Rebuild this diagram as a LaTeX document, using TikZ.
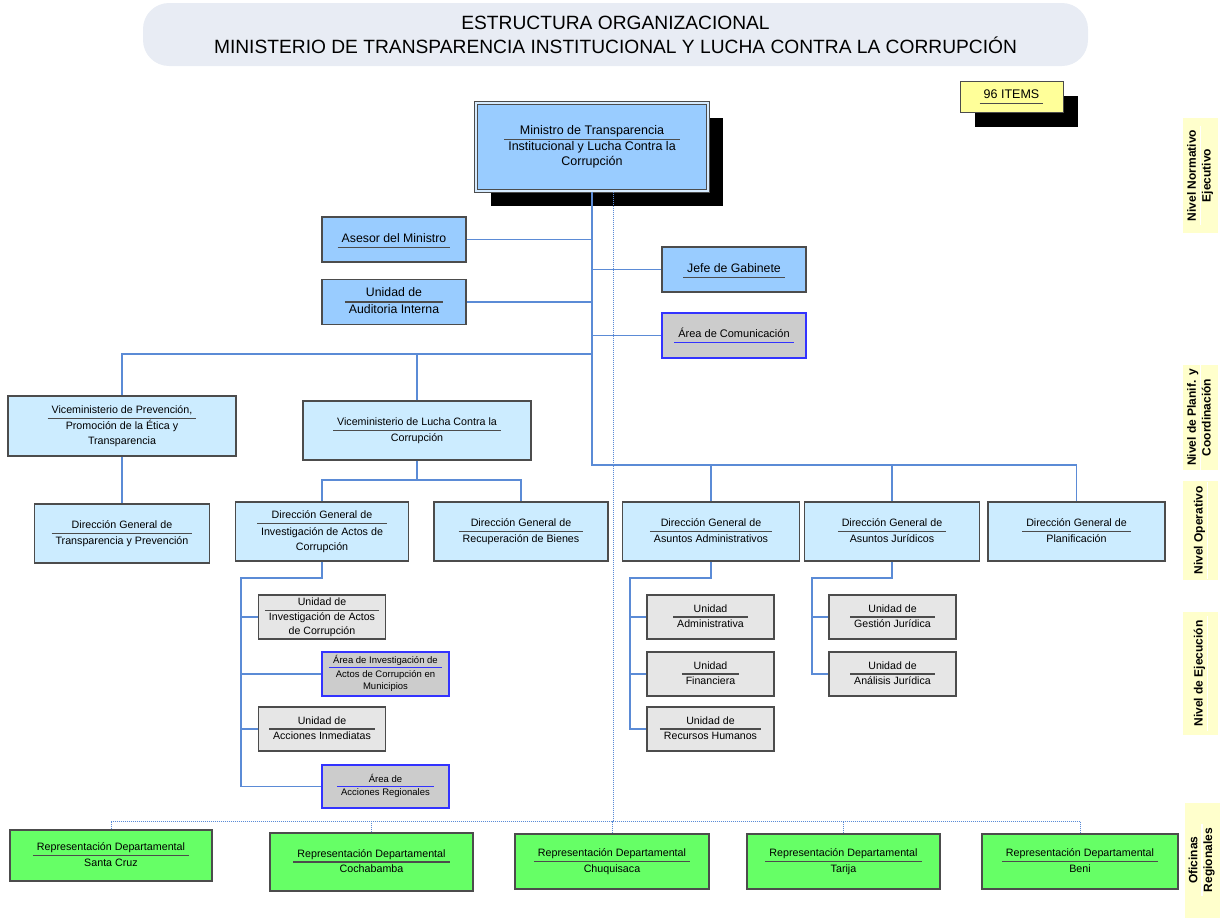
\documentclass[tikz,border=0pt]{standalone}
\usepackage{fontspec}
\setmainfont{Liberation Sans}
\usepackage{colortbl}
\usetikzlibrary{shadows}

\definecolor{staffblue}{HTML}{99CCFF}
\definecolor{dirblue}{HTML}{CCECFF}
\definecolor{unitgray}{HTML}{E6E6E6}
\definecolor{areagray}{HTML}{CCCCCC}
\definecolor{areaedge}{HTML}{3333FF}
\definecolor{repgreen}{HTML}{66FF66}
\definecolor{levelyellow}{HTML}{FFFFCC}
\definecolor{itemyellow}{HTML}{FFFF99}
\definecolor{titlefill}{HTML}{E8ECF4}
\definecolor{linkblue}{HTML}{5B8BD6}

\setlength{\arrayrulewidth}{1.1pt}
\setlength{\tabcolsep}{4pt}
\newcommand{\orgtxt}[3][black!70]{\arrayrulecolor{#1}\begin{tabular}{c}#2\\\hline #3\end{tabular}}
\newcommand{\orgone}[2][black!70]{\arrayrulecolor{#1}\begin{tabular}{c}#2\\\hline\end{tabular}}

\begin{document}
\begin{tikzpicture}[x=1pt,y=-1pt,
		box/.style={draw=black!70,line width=1.3pt,inner sep=0pt},
		staff/.style={box,fill=staffblue,minimum width=144pt,minimum height=45pt,font=\fontsize{12.3}{14.5}\selectfont\def\arraystretch{1.1}},
		area/.style={box,draw=areaedge,fill=areagray,minimum width=127pt,minimum height=44pt,font=\fontsize{9.5}{11.2}\selectfont\def\arraystretch{1.1}},
		dir/.style={box,fill=dirblue,minimum width=176pt,minimum height=59pt,font=\fontsize{10.7}{12.8}\selectfont\def\arraystretch{1.2}},
		unit/.style={box,fill=unitgray,minimum width=127pt,minimum height=44pt,font=\fontsize{10.6}{12.4}\selectfont\def\arraystretch{1.12}},
		rep/.style={box,fill=repgreen,minimum height=55pt,font=\fontsize{10.7}{12.8}\selectfont\def\arraystretch{1.15}},
		level/.style={fill=levelyellow,rotate=90,minimum height=35pt,inner sep=0pt,font=\bfseries\fontsize{12}{13.5}\selectfont\def\arraystretch{1.0}},
		link/.style={draw=linkblue,line width=1.4pt},
		reg/.style={draw=linkblue,line width=1pt,densely dotted}]

	\useasboundingbox (0,0) rectangle (1231,921);

	\node [fill=titlefill,rounded corners=26pt,minimum width=945pt,minimum height=63pt,align=center,
		font=\fontsize{19.2}{24}\selectfont] (title) at (615.5,34.5)
		{ESTRUCTURA ORGANIZACIONAL\\MINISTERIO DE TRANSPARENCIA INSTITUCIONAL Y LUCHA CONTRA LA CORRUPCIÓN};

	\node [box,line width=1pt,fill=itemyellow,minimum width=103pt,minimum height=31pt,font=\fontsize{12.5}{14}\selectfont,
		drop shadow={shadow xshift=15pt,shadow yshift=-15pt,fill=black,opacity=1}] (items) at (1011.5,96.5) {\orgone{96 ITEMS}};

	\node [box,line width=1pt,double=staffblue!40,double distance=2pt,fill=staffblue,minimum width=232pt,minimum height=88pt,
		font=\fontsize{12.5}{14.5}\selectfont\def\arraystretch{1.05},
		drop shadow={shadow xshift=15pt,shadow yshift=-15pt,fill=black,opacity=1}] (min) at (592,147)
		{\orgtxt{Ministro de Transparencia}{Institucional y Lucha Contra la\\Corrupción}};

	\node [staff] (ase) at (394,239.5) {\orgone{Asesor del Ministro}};
	\node [staff] (aud) at (394,302) {\orgtxt{Unidad de}{Auditoria Interna}};
	\node [staff] (jefe) at (734,269.5) {\orgone{Jefe de Gabinete}};
	\node [area,minimum width=144pt,minimum height=45pt,font=\fontsize{11}{13}\selectfont] (com) at (734,335.5) {\orgone[areaedge]{Área de Comunicación}};

	\node [dir,minimum width=228pt,minimum height=60pt] (vprev) at (122,426) {\orgtxt{Viceministerio de Prevención,}{Promoción de la Ética y\\Transparencia}};
	\node [dir,minimum width=228pt] (vlucha) at (417,430.5) {\orgtxt{Viceministerio de Lucha Contra la}{Corrupción}};

	\node [dir,minimum width=175pt] (dgtp) at (122,533.5) {\orgtxt{Dirección General de}{Transparencia y Prevención}};
	\node [dir,minimum width=173pt] (dginv) at (322,531.5) {\orgtxt{Dirección General de}{Investigación de Actos de\\Corrupción}};
	\node [dir,minimum width=174pt] (dgrec) at (521,531.5) {\orgtxt{Dirección General de}{Recuperación de Bienes}};
	\node [dir,minimum width=177pt] (dgadm) at (711,531.5) {\orgtxt{Dirección General de}{Asuntos Administrativos}};
	\node [dir,minimum width=175pt] (dgjur) at (892,531.5) {\orgtxt{Dirección General de}{Asuntos Jurídicos}};
	\node [dir,minimum width=177pt] (dgplan) at (1076.5,531.5) {\orgtxt{Dirección General de}{Planificación}};

	\node [unit] (uinv) at (322,617) {\orgtxt{Unidad de}{Investigación de Actos\\de Corrupción}};
	\node [area] (ainv) at (385.5,674) {\orgtxt[areaedge]{Área de Investigación de}{Actos de Corrupción en\\Municipios}};
	\node [unit] (uacc) at (322,729) {\orgtxt{Unidad de}{Acciones Inmediatas}};
	\node [area,minimum height=43pt] (aacc) at (385.5,786.5) {\orgtxt[areaedge]{Área de}{Acciones Regionales}};

	\node [unit] (uadm) at (710.5,617) {\orgtxt{Unidad}{Administrativa}};
	\node [unit] (ufin) at (710.5,674) {\orgtxt{Unidad}{Financiera}};
	\node [unit] (urrhh) at (710.5,729) {\orgtxt{Unidad de}{Recursos Humanos}};
	\node [unit] (ugest) at (892.5,617) {\orgtxt{Unidad de}{Gestión Jurídica}};
	\node [unit] (uanal) at (892.5,674) {\orgtxt{Unidad de}{Análisis Jurídica}};

	\node [rep,minimum width=202pt,minimum height=51pt] (rscz) at (111,855.5) {\orgtxt{Representación Departamental}{Santa Cruz}};
	\node [rep,minimum width=203pt,minimum height=58pt] (rcbba) at (371.5,862) {\orgtxt{Representación Departamental}{Cochabamba}};
	\node [rep,minimum width=194pt] (rchq) at (612,861.5) {\orgtxt{Representación Departamental}{Chuquisaca}};
	\node [rep,minimum width=193pt] (rtja) at (843.5,861.5) {\orgtxt{Representación Departamental}{Tarija}};
	\node [rep,minimum width=196pt] (rbeni) at (1080,861.5) {\orgtxt{Representación Departamental}{Beni}};

	\node [level,minimum width=115pt] (lnorm) at (1200.5,175.5) {\orgtxt[white]{Nivel Normativo}{Ejecutivo}};
	\node [level,minimum width=105pt] (lplan) at (1200.5,417.5) {\orgtxt[white]{Nivel de Planif. y}{Coordinación}};
	\node [level,minimum width=99pt] (loper) at (1200.5,530.5) {\orgone[white]{Nivel Operativo}};
	\node [level,minimum width=123pt] (lejec) at (1200.5,673.5) {\orgone[white]{Nivel de Ejecución}};
	\node [level,minimum width=115pt] (lreg) at (1202,860) {\orgtxt[white]{Oficinas}{Regionales}};

	\coordinate (vj) at (592,354);
	\coordinate (dj) at (592,465);
	\coordinate (lj) at (417,480);
	\coordinate (s1) at (241,578);
	\coordinate (s2) at (630,578);
	\coordinate (s3) at (812,578);
	\coordinate (rj) at (613,821);

	\draw [link] (min.south) -- (dj) -| (dgplan.north);
	\draw [link] (ase.east) -- (ase.east -| min.south);
	\draw [link] (aud.east) -- (aud.east -| min.south);
	\draw [link] (jefe.west) -- (jefe.west -| min.south);
	\draw [link] (com.west) -- (com.west -| min.south);
	\draw [link] (vprev.north) |- (vj);
	\draw [link] (vlucha.north) -- (vlucha.north |- vj);
	\draw [link] (dgadm.north) -- (dgadm.north |- dj);
	\draw [link] (dgjur.north) -- (dgjur.north |- dj);
	\draw [link] (vprev.south) -- (dgtp.north);
	\draw [link] (vlucha.south) -- (lj);
	\draw [link] (dginv.north) |- (lj) -| (dgrec.north);

	\draw [link] (dginv.south) |- (s1) |- (aacc.west);
	\draw [link] (uinv.west) -- (uinv.west -| s1);
	\draw [link] (ainv.west) -- (ainv.west -| s1);
	\draw [link] (uacc.west) -- (uacc.west -| s1);
	\draw [link] (dgadm.south) |- (s2) |- (urrhh.west);
	\draw [link] (uadm.west) -- (uadm.west -| s2);
	\draw [link] (ufin.west) -- (ufin.west -| s2);
	\draw [link] (dgjur.south) |- (s3) |- (uanal.west);
	\draw [link] (ugest.west) -- (ugest.west -| s3);

	\draw [reg] (min.south -| rj) -- (rj);
	\draw [reg] (rscz.north) |- (rj) -| (rbeni.north);
	\draw [reg] (rcbba.north) -- (rcbba.north |- rj);
	\draw [reg] (rchq.north) -- (rchq.north |- rj);
	\draw [reg] (rtja.north) -- (rtja.north |- rj);

\end{tikzpicture}
\end{document}
